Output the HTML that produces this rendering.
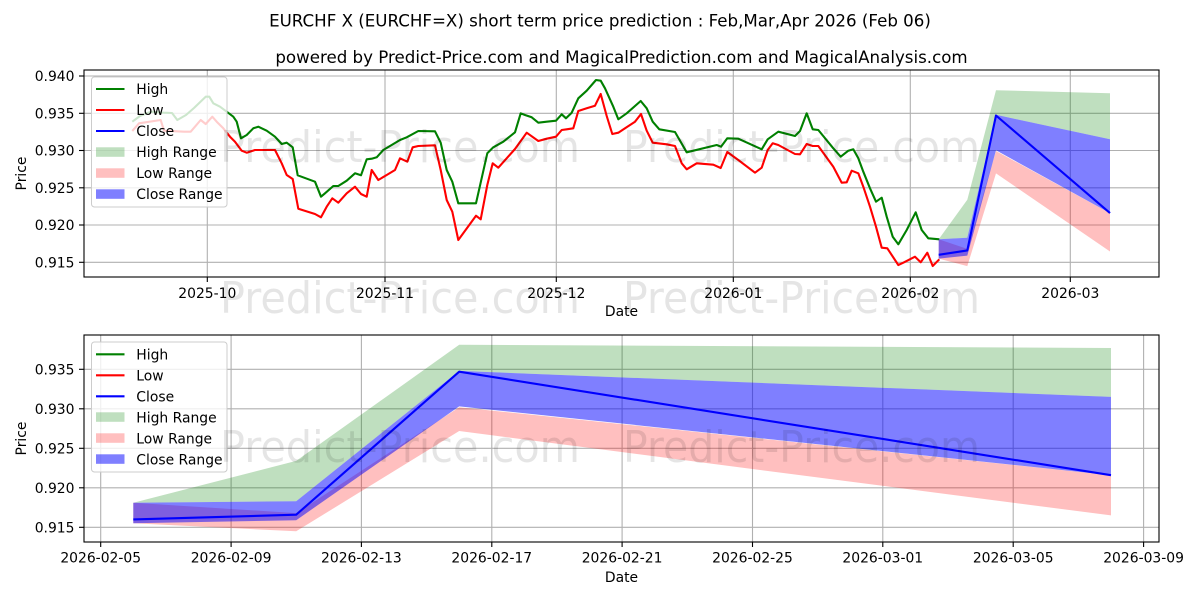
<!DOCTYPE html>
<html><head><meta charset="utf-8"><style>
html,body{margin:0;padding:0;background:#fff;}
svg{display:block;}
text{font-family:"DejaVu Sans","Liberation Sans",sans-serif;fill:#000;}
</style></head><body>
<svg width="1200" height="600" viewBox="0 0 1200 600" xmlns="http://www.w3.org/2000/svg">
<defs>
<clipPath id="c1"><rect x="84" y="70" width="1075" height="207"/></clipPath>
<clipPath id="c2"><rect x="84" y="335" width="1075" height="207"/></clipPath>
</defs>
<rect width="1200" height="600" fill="#fff"/>

<!-- titles -->
<text x="600" y="26.5" font-size="16.67" text-anchor="middle">EURCHF X (EURCHF=X) short term price prediction : Feb,Mar,Apr 2026 (Feb 06)</text>
<text x="621.5" y="63" font-size="16.67" text-anchor="middle">powered by Predict-Price.com and MagicalPrediction.com and MagicalAnalysis.com</text>

<!-- ===== TOP CHART ===== -->
<g stroke="#b0b0b0" stroke-width="1.1">
<line x1="207.3" y1="70" x2="207.3" y2="277"/>
<line x1="385" y1="70" x2="385" y2="277"/>
<line x1="556.3" y1="70" x2="556.3" y2="277"/>
<line x1="733.3" y1="70" x2="733.3" y2="277"/>
<line x1="910.3" y1="70" x2="910.3" y2="277"/>
<line x1="1070.3" y1="70" x2="1070.3" y2="277"/>
<line x1="84" y1="76" x2="1159" y2="76"/>
<line x1="84" y1="113.3" x2="1159" y2="113.3"/>
<line x1="84" y1="150.5" x2="1159" y2="150.5"/>
<line x1="84" y1="187.8" x2="1159" y2="187.8"/>
<line x1="84" y1="225" x2="1159" y2="225"/>
<line x1="84" y1="262.3" x2="1159" y2="262.3"/>
</g>
<g clip-path="url(#c1)">
<polyline fill="none" stroke="#008000" stroke-width="2.1" stroke-linejoin="round" points="132.3,121.7 140,116 150.7,111.7 164,112.7 172,113 177.3,120 186,115 194,108 205.7,96.7 209.3,96.7 213.3,103.3 220,106.7 226.7,111.7 233.3,116.7 236.7,121.7 241,138.3 246.7,135 253.3,128.3 258.3,126.7 266.7,130.7 275,136.7 281.7,144 286.7,142.7 292.7,147.3 297.7,175.3 315,181.7 321,196.7 325,193.3 333.3,186 338.3,186 346.7,180.7 355,173.3 361,175.3 366.7,159.3 371.7,158.7 376.7,157.3 383.3,150 400,140 406.7,137.3 418.3,131 435,131.3 440.7,142.7 446.7,170 452.3,181.7 458.3,203.3 476,203.3 487.3,153.3 493.3,147.3 503.3,141.7 515,132.3 520.7,113.3 525,115 531.7,117.3 538.3,122.7 546.7,121.7 556,120.7 561.7,114.3 566,118.3 571.7,112.7 578.3,98.3 586.7,90.7 596,80 600.7,80.7 605,88.3 613.3,106.7 618.3,119.3 626.7,113.3 640.7,101 646.7,108.3 652.7,121.7 659.3,129.3 675,132 686.7,152.3 716.7,145 721,146.7 727.3,138.3 738.3,138.7 761.7,149.3 767.7,139.3 778.3,131.7 795,136 800,131 806.7,113.3 812.7,129.3 818.3,130 833.3,148.3 840.7,156.7 848.3,150.7 853.3,149.3 858.3,158.3 863.3,171.7 870,188.3 876,201.7 881.7,197.7 886.7,216.7 892.7,236.7 898.3,244.3 906.7,230 915.7,212.3 921.7,230 928.3,238.3 939.3,239.3"/>
<polyline fill="none" stroke="#ff0000" stroke-width="2.1" stroke-linejoin="round" points="132.3,131 139,123.3 160.7,120 164,130.7 184,131.7 190.7,131.7 200.7,120 205.7,124 212.3,116.7 216.7,121.7 223.3,128.3 230,136.7 235,141.7 241.7,150.7 246.7,152.7 255,150 275,150 281.7,163.3 286.7,175 292.7,179 298.3,208.7 315,214 321,217.3 326.7,206.7 332.3,198.3 338.3,202.7 346.7,193.3 355,186.7 361,194 366.7,196.7 371.7,170 378.3,180 386.7,175 395,170 400,158.3 407.3,161.7 412.7,147.3 418.3,146 435,145.3 440.7,170 446.7,200 452.3,211.7 458.3,240 476,215.7 480.7,219.3 487.3,185 492.7,163.3 498.3,167.7 515,149 526.7,132.7 538.3,141 546.7,138.7 556,136.7 561.7,130 566.7,129.3 573.3,128.3 578.3,111 586.7,108.3 595,105.7 600.7,94 606.7,116 612.3,134 618.3,132.7 635,121.7 641,114 646.7,130.7 652.7,142.7 666.7,144.3 675,146 681.7,163.3 686.7,169.3 696.7,163.3 713.3,164.7 720.7,168 727.3,152 738.3,160 755,172.7 761.7,167.7 767.7,150 772.7,143.3 778.3,145 795,154 800,154.3 806.7,144 812.7,146 818.3,146 833.3,166.7 841.7,182.7 846.7,182.3 851.7,170.7 858.3,173.3 863.3,186.7 870,206.7 876,226.7 881.7,247.7 887.3,248.3 898.3,265 903.3,262.7 915,256.7 920.7,262.3 927.3,252.7 932.7,266 939.3,259.3"/>
<!-- forecast ranges -->
<polygon fill="#008000" fill-opacity="0.25" points="938.7,239.2 967.3,199.7 996,90.2 1110,93.2 1110,139.3 996,114.8 967.3,237.7 938.7,239.2"/>
<polygon fill="#ff0000" fill-opacity="0.25" points="938.7,239.2 967.3,248.9 996,151 1110,213.1 1110,251.5 996,173.4 967.3,266.1 938.7,258.6"/>
<polygon fill="#0000ff" fill-opacity="0.5" points="938.7,239.2 967.3,237.7 996,114.8 1110,139.3 1110,213.1 996,150.3 967.3,255.6 938.7,258.6"/>
<polyline fill="none" stroke="#0000ff" stroke-width="2.1" stroke-linejoin="round" points="938.7,254.8 967.3,250.4 996,115.5 1110,213.1"/>
</g>
<rect x="84" y="70" width="1075" height="207" fill="none" stroke="#000" stroke-width="1.1"/>
<!-- top ticks -->
<g stroke="#000" stroke-width="1.1">
<line x1="207.3" y1="277" x2="207.3" y2="282"/>
<line x1="385" y1="277" x2="385" y2="282"/>
<line x1="556.3" y1="277" x2="556.3" y2="282"/>
<line x1="733.3" y1="277" x2="733.3" y2="282"/>
<line x1="910.3" y1="277" x2="910.3" y2="282"/>
<line x1="1070.3" y1="277" x2="1070.3" y2="282"/>
<line x1="79" y1="76" x2="84" y2="76"/>
<line x1="79" y1="113.3" x2="84" y2="113.3"/>
<line x1="79" y1="150.5" x2="84" y2="150.5"/>
<line x1="79" y1="187.8" x2="84" y2="187.8"/>
<line x1="79" y1="225" x2="84" y2="225"/>
<line x1="79" y1="262.3" x2="84" y2="262.3"/>
</g>
<g font-size="13.9" text-anchor="middle">
<text x="207.3" y="298">2025-10</text>
<text x="385" y="298">2025-11</text>
<text x="556.3" y="298">2025-12</text>
<text x="733.3" y="298">2026-01</text>
<text x="910.3" y="298">2026-02</text>
<text x="1070.3" y="298">2026-03</text>
<text x="621.5" y="316">Date</text>
</g>
<g font-size="13.9" text-anchor="end">
<text x="74.5" y="81">0.940</text>
<text x="74.5" y="118.3">0.935</text>
<text x="74.5" y="155.5">0.930</text>
<text x="74.5" y="192.8">0.925</text>
<text x="74.5" y="230">0.920</text>
<text x="74.5" y="267.3">0.915</text>
</g>
<text transform="translate(26,173.5) rotate(-90)" font-size="13.9" text-anchor="middle">Price</text>

<!-- top legend -->
<rect x="91.5" y="77" width="135.5" height="130" rx="3" fill="#fff" fill-opacity="0.8" stroke="#cccccc" stroke-width="1"/>
<g stroke-width="2.1">
<line x1="96" y1="89" x2="124.5" y2="89" stroke="#008000"/>
<line x1="96" y1="110" x2="124.5" y2="110" stroke="#ff0000"/>
<line x1="96" y1="131" x2="124.5" y2="131" stroke="#0000ff"/>
</g>
<rect x="96" y="147.3" width="28.5" height="9.5" fill="#008000" fill-opacity="0.25"/>
<rect x="96" y="168.3" width="28.5" height="9.5" fill="#ff0000" fill-opacity="0.25"/>
<rect x="96" y="189.3" width="28.5" height="9.5" fill="#0000ff" fill-opacity="0.5"/>
<g font-size="13.9">
<text x="136.3" y="94">High</text>
<text x="136.3" y="115">Low</text>
<text x="136.3" y="136">Close</text>
<text x="136.3" y="157">High Range</text>
<text x="136.3" y="178">Low Range</text>
<text x="136.3" y="199">Close Range</text>
</g>

<!-- ===== BOTTOM CHART ===== -->
<g stroke="#b0b0b0" stroke-width="1.1">
<line x1="100.7" y1="335" x2="100.7" y2="542"/>
<line x1="231.1" y1="335" x2="231.1" y2="542"/>
<line x1="361.4" y1="335" x2="361.4" y2="542"/>
<line x1="491.8" y1="335" x2="491.8" y2="542"/>
<line x1="622.1" y1="335" x2="622.1" y2="542"/>
<line x1="752.5" y1="335" x2="752.5" y2="542"/>
<line x1="882.8" y1="335" x2="882.8" y2="542"/>
<line x1="1013.2" y1="335" x2="1013.2" y2="542"/>
<line x1="1143.6" y1="335" x2="1143.6" y2="542"/>
<line x1="84" y1="369.3" x2="1159" y2="369.3"/>
<line x1="84" y1="408.8" x2="1159" y2="408.8"/>
<line x1="84" y1="448.3" x2="1159" y2="448.3"/>
<line x1="84" y1="487.8" x2="1159" y2="487.8"/>
<line x1="84" y1="527.3" x2="1159" y2="527.3"/>
</g>
<g clip-path="url(#c2)">
<polygon fill="#008000" fill-opacity="0.25" points="133.3,502.8 296.2,460.9 459.2,344.8 1111,348 1111,396.9 459.2,370.9 296.2,501.2 133.3,502.8"/>
<polygon fill="#ff0000" fill-opacity="0.25" points="133.3,502.8 296.2,513.1 459.2,407.2 1111,475.2 1111,515.4 459.2,431 296.2,531.3 133.3,523.3"/>
<polygon fill="#0000ff" fill-opacity="0.5" points="133.3,502.8 296.2,501.2 459.2,370.9 1111,396.9 1111,475.2 459.2,406.4 296.2,520.2 133.3,523.3"/>
<polyline fill="none" stroke="#0000ff" stroke-width="2.1" stroke-linejoin="round" points="133.3,519.4 296.2,514.7 459.2,371.7 1111,475.2"/>
</g>
<rect x="84" y="335" width="1075" height="207" fill="none" stroke="#000" stroke-width="1.1"/>
<g stroke="#000" stroke-width="1.1">
<line x1="100.7" y1="542" x2="100.7" y2="547"/>
<line x1="231.1" y1="542" x2="231.1" y2="547"/>
<line x1="361.4" y1="542" x2="361.4" y2="547"/>
<line x1="491.8" y1="542" x2="491.8" y2="547"/>
<line x1="622.1" y1="542" x2="622.1" y2="547"/>
<line x1="752.5" y1="542" x2="752.5" y2="547"/>
<line x1="882.8" y1="542" x2="882.8" y2="547"/>
<line x1="1013.2" y1="542" x2="1013.2" y2="547"/>
<line x1="1143.6" y1="542" x2="1143.6" y2="547"/>
<line x1="79" y1="369.3" x2="84" y2="369.3"/>
<line x1="79" y1="408.8" x2="84" y2="408.8"/>
<line x1="79" y1="448.3" x2="84" y2="448.3"/>
<line x1="79" y1="487.8" x2="84" y2="487.8"/>
<line x1="79" y1="527.3" x2="84" y2="527.3"/>
</g>
<g font-size="13.9" text-anchor="middle">
<text x="100.7" y="562.5">2026-02-05</text>
<text x="231.1" y="562.5">2026-02-09</text>
<text x="361.4" y="562.5">2026-02-13</text>
<text x="491.8" y="562.5">2026-02-17</text>
<text x="622.1" y="562.5">2026-02-21</text>
<text x="752.5" y="562.5">2026-02-25</text>
<text x="882.8" y="562.5">2026-03-01</text>
<text x="1013.2" y="562.5">2026-03-05</text>
<text x="1143.6" y="562.5">2026-03-09</text>
<text x="621.5" y="582">Date</text>
</g>
<g font-size="13.9" text-anchor="end">
<text x="74.5" y="374.3">0.935</text>
<text x="74.5" y="413.8">0.930</text>
<text x="74.5" y="453.3">0.925</text>
<text x="74.5" y="492.8">0.920</text>
<text x="74.5" y="532.3">0.915</text>
</g>
<text transform="translate(26,438.5) rotate(-90)" font-size="13.9" text-anchor="middle">Price</text>

<!-- bottom legend -->
<rect x="91.5" y="342" width="135.5" height="130" rx="3" fill="#fff" fill-opacity="0.8" stroke="#cccccc" stroke-width="1"/>
<g stroke-width="2.1">
<line x1="96" y1="354.3" x2="124.5" y2="354.3" stroke="#008000"/>
<line x1="96" y1="375.3" x2="124.5" y2="375.3" stroke="#ff0000"/>
<line x1="96" y1="396.3" x2="124.5" y2="396.3" stroke="#0000ff"/>
</g>
<rect x="96" y="412.3" width="28.5" height="9.5" fill="#008000" fill-opacity="0.25"/>
<rect x="96" y="433.3" width="28.5" height="9.5" fill="#ff0000" fill-opacity="0.25"/>
<rect x="96" y="454.3" width="28.5" height="9.5" fill="#0000ff" fill-opacity="0.5"/>
<g font-size="13.9">
<text x="136.3" y="359.3">High</text>
<text x="136.3" y="380.3">Low</text>
<text x="136.3" y="401.3">Close</text>
<text x="136.3" y="422.3">High Range</text>
<text x="136.3" y="443.3">Low Range</text>
<text x="136.3" y="464.3">Close Range</text>
</g>

<!-- watermarks -->
<g font-size="44" style="fill:#808080;fill-opacity:0.10">
<text x="220" y="162" textLength="360" lengthAdjust="spacingAndGlyphs">Predict-Price.com</text>
<text x="623" y="162" textLength="357" lengthAdjust="spacingAndGlyphs">Predict-Price.com</text>
<text x="220" y="313" textLength="360" lengthAdjust="spacingAndGlyphs">Predict-Price.com</text>
<text x="623" y="313" textLength="357" lengthAdjust="spacingAndGlyphs">Predict-Price.com</text>
<text x="220" y="462" textLength="360" lengthAdjust="spacingAndGlyphs">Predict-Price.com</text>
<text x="623" y="462" textLength="357" lengthAdjust="spacingAndGlyphs">Predict-Price.com</text>
</g>
</svg>
</body></html>
